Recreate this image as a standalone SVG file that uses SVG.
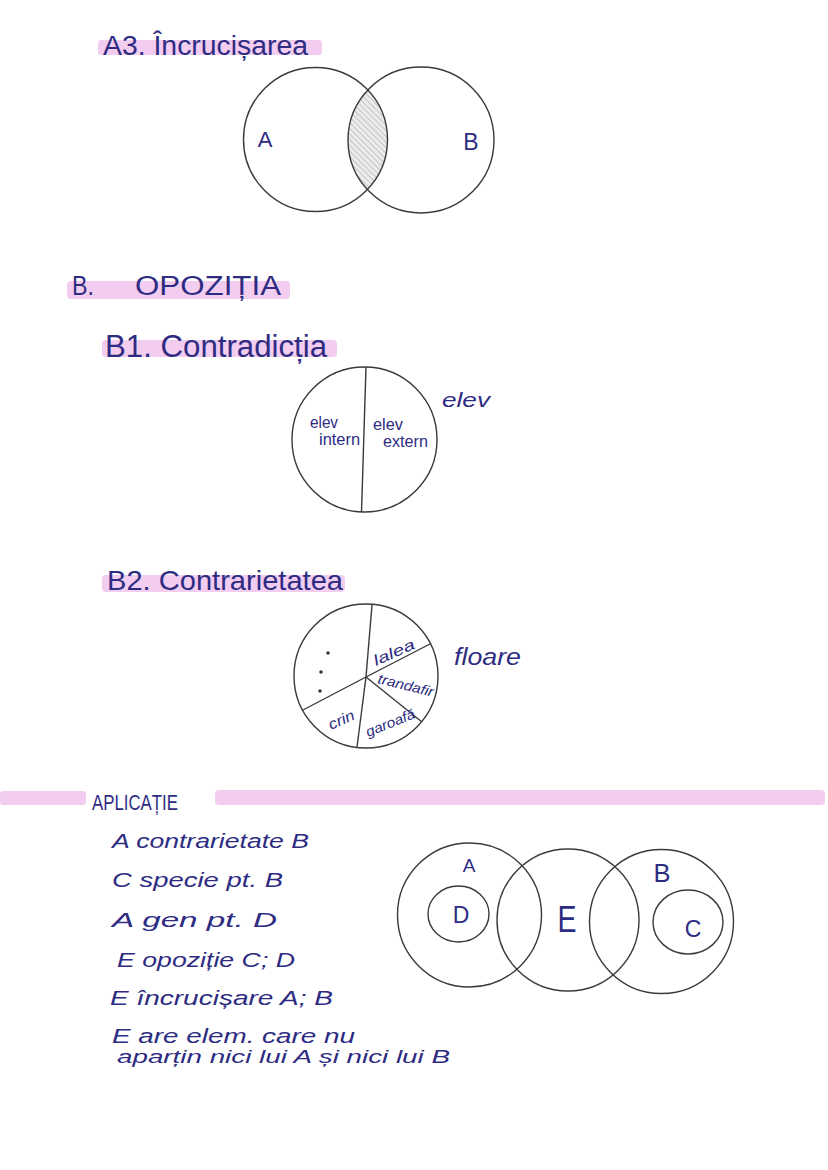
<svg xmlns="http://www.w3.org/2000/svg" width="828" height="1170" viewBox="0 0 828 1170">
<style>
.bg{fill:#ffffff}
.hl{fill:#f2cdf0}
.c{fill:none;stroke:#3a3a3a;stroke-width:1.4}
.ln{stroke:#3a3a3a;stroke-width:1.4;fill:none}
.t{font-family:"Liberation Sans",Arial,sans-serif;fill:#2e2c82}
.hw{font-family:"Liberation Sans",Arial,sans-serif;fill:#2e2c82;font-style:italic}
.dot{fill:#3a3a3a}
</style>
<defs>
<pattern id="hatch" width="4" height="4" patternUnits="userSpaceOnUse" patternTransform="rotate(-45)">
<rect width="4" height="4" fill="#ececec"/>
<line x1="0" y1="0" x2="0" y2="4" stroke="#9a9a9a" stroke-width="1"/>
</pattern>
</defs>
<rect class="bg" x="0" y="0" width="828" height="1170"/>

<!-- Section A3 -->
<g id="title-a3">
<rect class="hl" x="98" y="40" width="224" height="15" rx="3"/>
<text class="t" x="103" y="55" font-size="27" textLength="205" lengthAdjust="spacingAndGlyphs">A3. Încrucișarea</text>
</g>
<g id="a3-intersection">
<path d="M367.6 89.8 A72 72 0 0 1 367.6 189.5 A73 73 0 0 1 367.6 89.8 Z" fill="url(#hatch)"/>
</g>
<g id="a3-circle-A">
<circle class="c" cx="315.5" cy="139.5" r="72"/>
<text class="t" x="265" y="147" font-size="22" text-anchor="middle">A</text>
</g>
<g id="a3-circle-B">
<circle class="c" cx="421" cy="140" r="73"/>
<text class="t" x="471" y="150" font-size="23" text-anchor="middle">B</text>
</g>

<!-- Section B -->
<g id="title-b">
<rect class="hl" x="67" y="281" width="223" height="18" rx="4"/>
<text class="t" x="72" y="295" font-size="27" textLength="22" lengthAdjust="spacingAndGlyphs">B.</text>
<text class="t" x="135" y="295" font-size="27" textLength="146" lengthAdjust="spacingAndGlyphs">OPOZIȚIA</text>
</g>

<g id="title-b1">
<rect class="hl" x="102" y="340" width="235" height="17" rx="4"/>
<text class="t" x="105" y="357" font-size="31" textLength="222" lengthAdjust="spacingAndGlyphs">B1. Contradicția</text>
</g>
<g id="b1-circle">
<circle class="c" cx="364.5" cy="439.5" r="72.5"/>
<path class="ln" d="M366 367 Q364 440 361.5 512"/>
<text class="t" x="310" y="428" font-size="16" textLength="28" lengthAdjust="spacingAndGlyphs">elev</text>
<text class="t" x="319" y="445" font-size="16" textLength="41" lengthAdjust="spacingAndGlyphs">intern</text>
<text class="t" x="373" y="430" font-size="16" textLength="30" lengthAdjust="spacingAndGlyphs">elev</text>
<text class="t" x="383" y="447" font-size="16" textLength="45" lengthAdjust="spacingAndGlyphs">extern</text>
<text class="hw" x="442" y="407" font-size="21" textLength="48" lengthAdjust="spacingAndGlyphs">elev</text>
</g>

<g id="title-b2">
<rect class="hl" x="102" y="575" width="243" height="17" rx="4"/>
<text class="t" x="107" y="590" font-size="28" textLength="236" lengthAdjust="spacingAndGlyphs">B2. Contrarietatea</text>
</g>
<g id="b2-circle">
<circle class="c" cx="366" cy="676" r="72"/>
<line class="ln" x1="366" y1="677" x2="372" y2="605"/>
<line class="ln" x1="366" y1="677" x2="430" y2="644"/>
<line class="ln" x1="366" y1="677" x2="422" y2="722"/>
<line class="ln" x1="366" y1="677" x2="357" y2="747"/>
<line class="ln" x1="366" y1="677" x2="303" y2="710"/>
<circle class="dot" cx="328" cy="653" r="1.8"/>
<circle class="dot" cx="321" cy="672" r="1.8"/>
<circle class="dot" cx="320" cy="691" r="1.8"/>
<text class="hw" font-size="15" transform="translate(376 666) rotate(-24)" textLength="44" lengthAdjust="spacingAndGlyphs">lalea</text>
<text class="hw" font-size="14" transform="translate(377 683) rotate(14)" textLength="57" lengthAdjust="spacingAndGlyphs">trandafir</text>
<text class="hw" font-size="14" transform="translate(368 737) rotate(-22)" textLength="52" lengthAdjust="spacingAndGlyphs">garoafă</text>
<text class="hw" font-size="15" transform="translate(331 730) rotate(-24)" textLength="27" lengthAdjust="spacingAndGlyphs">crin</text>
<text class="hw" x="454" y="665" font-size="23" textLength="67" lengthAdjust="spacingAndGlyphs">floare</text>
</g>

<!-- Application -->
<g id="title-aplicatie">
<rect class="hl" x="0" y="791" width="86" height="14" rx="3"/>
<rect class="hl" x="215" y="790" width="610" height="15" rx="4"/>
<text class="t" x="92" y="810" font-size="22" textLength="86" lengthAdjust="spacingAndGlyphs">APLICAȚIE</text>
</g>
<g id="list">
<text class="hw" x="112" y="848" font-size="20" textLength="197" lengthAdjust="spacingAndGlyphs">A contrarietate B</text>
<text class="hw" x="112" y="887" font-size="20" textLength="171" lengthAdjust="spacingAndGlyphs">C specie pt. B</text>
<text class="hw" x="112" y="927" font-size="20" textLength="165" lengthAdjust="spacingAndGlyphs">A gen pt. D</text>
<text class="hw" x="117" y="967" font-size="20" textLength="178" lengthAdjust="spacingAndGlyphs">E opoziție C; D</text>
<text class="hw" x="110" y="1005" font-size="20" textLength="223" lengthAdjust="spacingAndGlyphs">E încrucișare A; B</text>
<text class="hw" x="112" y="1043" font-size="20" textLength="243" lengthAdjust="spacingAndGlyphs">E are elem. care nu</text>
<text class="hw" x="117" y="1063" font-size="19" textLength="333" lengthAdjust="spacingAndGlyphs">aparțin nici lui A și nici lui B</text>
</g>
<g id="app-circle-A">
<circle class="c" cx="469.5" cy="915" r="72"/>
<text class="t" x="469" y="872" font-size="19" text-anchor="middle">A</text>
</g>
<g id="app-circle-D">
<ellipse class="c" cx="458.5" cy="914" rx="30.5" ry="28"/>
<text class="t" x="461" y="923" font-size="23" text-anchor="middle">D</text>
</g>
<g id="app-circle-E">
<circle class="c" cx="568" cy="920" r="71"/>
<text class="t" x="567" y="932" font-size="36" text-anchor="middle" textLength="19" lengthAdjust="spacingAndGlyphs">E</text>
</g>
<g id="app-circle-B">
<circle class="c" cx="661.5" cy="921.5" r="72"/>
<text class="t" x="662" y="882" font-size="26" text-anchor="middle" textLength="17" lengthAdjust="spacingAndGlyphs">B</text>
</g>
<g id="app-circle-C">
<ellipse class="c" cx="688" cy="922" rx="35" ry="32"/>
<text class="t" x="693" y="937" font-size="23" text-anchor="middle">C</text>
</g>
<g id="connectors"></g>
</svg>
